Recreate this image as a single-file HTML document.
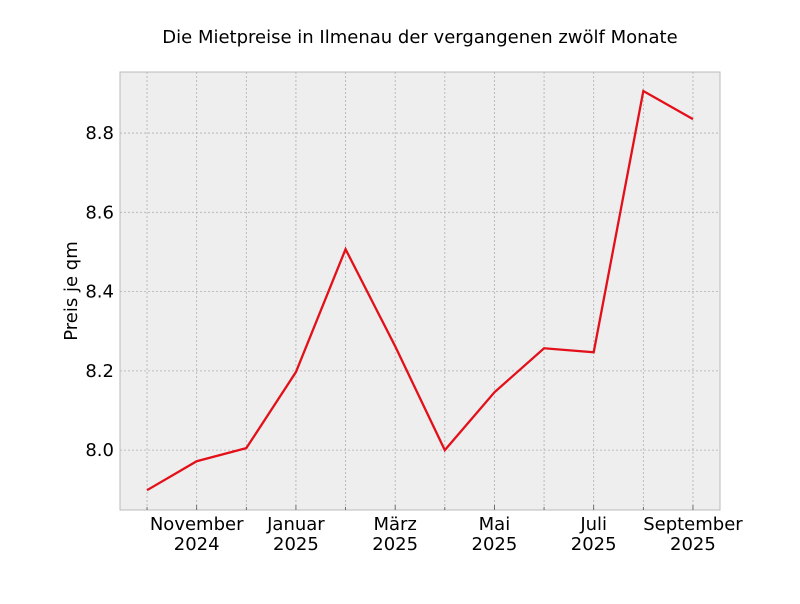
<!DOCTYPE html>
<html><head><meta charset="utf-8"><style>
body{margin:0;background:#fff;font-family:"DejaVu Sans","Liberation Sans",sans-serif}
text{font-family:"DejaVu Sans","Liberation Sans",sans-serif}
</style></head><body>
<svg id="c" width="800" height="600" xmlns="http://www.w3.org/2000/svg"></svg>
<script>
const months=["Okt 2024","November 2024","Dez 2024","Januar 2025","Feb 2025","März 2025","Apr 2025","Mai 2025","Jun 2025","Juli 2025","Aug 2025","September 2025"];
const prices=[7.899,7.972,8.005,8.197,8.507,8.262,8.0,8.146,8.257,8.247,8.906,8.835];
const labelIdx=[1,3,5,7,9,11];
const labelTop=["November","Januar","März","Mai","Juli","September"];
const labelBot=["2024","2025","2025","2025","2025","2025"];
const yTicks=[8.0,8.2,8.4,8.6,8.8];
const L=120,R=720,T=72,B=510;
const x0=-0.545,x1=11.545,y0=7.849,y1=8.954;
const X=i=>L+(i-x0)/(x1-x0)*(R-L);
const Y=v=>B-(v-y0)/(y1-y0)*(B-T);
const svg=document.getElementById('c');const NS="http://www.w3.org/2000/svg";
function add(tag,attrs,txt){const e=document.createElementNS(NS,tag);for(const k in attrs)e.setAttribute(k,attrs[k]);if(txt!=null)e.textContent=txt;svg.appendChild(e);return e;}
let e=add('rect',{x:L,y:T,width:R-L,height:B-T,fill:'#eeeeee',stroke:'#bbbbbb','stroke-width':1});

months.forEach((m,i)=>{const x=X(i);
e=add('line',{x1:x,x2:x,y1:T,y2:B,stroke:'#b0b0b0','stroke-width':0.8,'stroke-dasharray':'2,2'});

e=add('line',{x1:x,x2:x,y1:B,y2:B-(labelIdx.includes(i)?5:3),stroke:'#555','stroke-width':0.8});
});
yTicks.forEach(v=>{const y=Y(v);
e=add('line',{x1:L,x2:R,y1:y,y2:y,stroke:'#b0b0b0','stroke-width':0.8,'stroke-dasharray':'2,2'});

e=add('text',{x:114,y:y+6,'text-anchor':'end','font-size':18,fill:'#000'},v.toFixed(1));
});
labelIdx.forEach((i,k)=>{
e=add('text',{x:X(i),y:530,'text-anchor':'middle','font-size':18},labelTop[k]);

e=add('text',{x:X(i),y:550,'text-anchor':'middle','font-size':18},labelBot[k]);
});
e=add('polyline',{points:prices.map((v,i)=>X(i)+','+Y(v)).join(' '),fill:'none',stroke:'#e3101a','stroke-width':2.3});

e=add('text',{x:420,y:43,'text-anchor':'middle','font-size':18},'Die Mietpreise in Ilmenau der vergangenen zwölf Monate');

e=add('text',{x:77,y:291,'text-anchor':'middle','font-size':18,transform:'rotate(-90 77 291)'},'Preis je qm');

</script></body></html>
